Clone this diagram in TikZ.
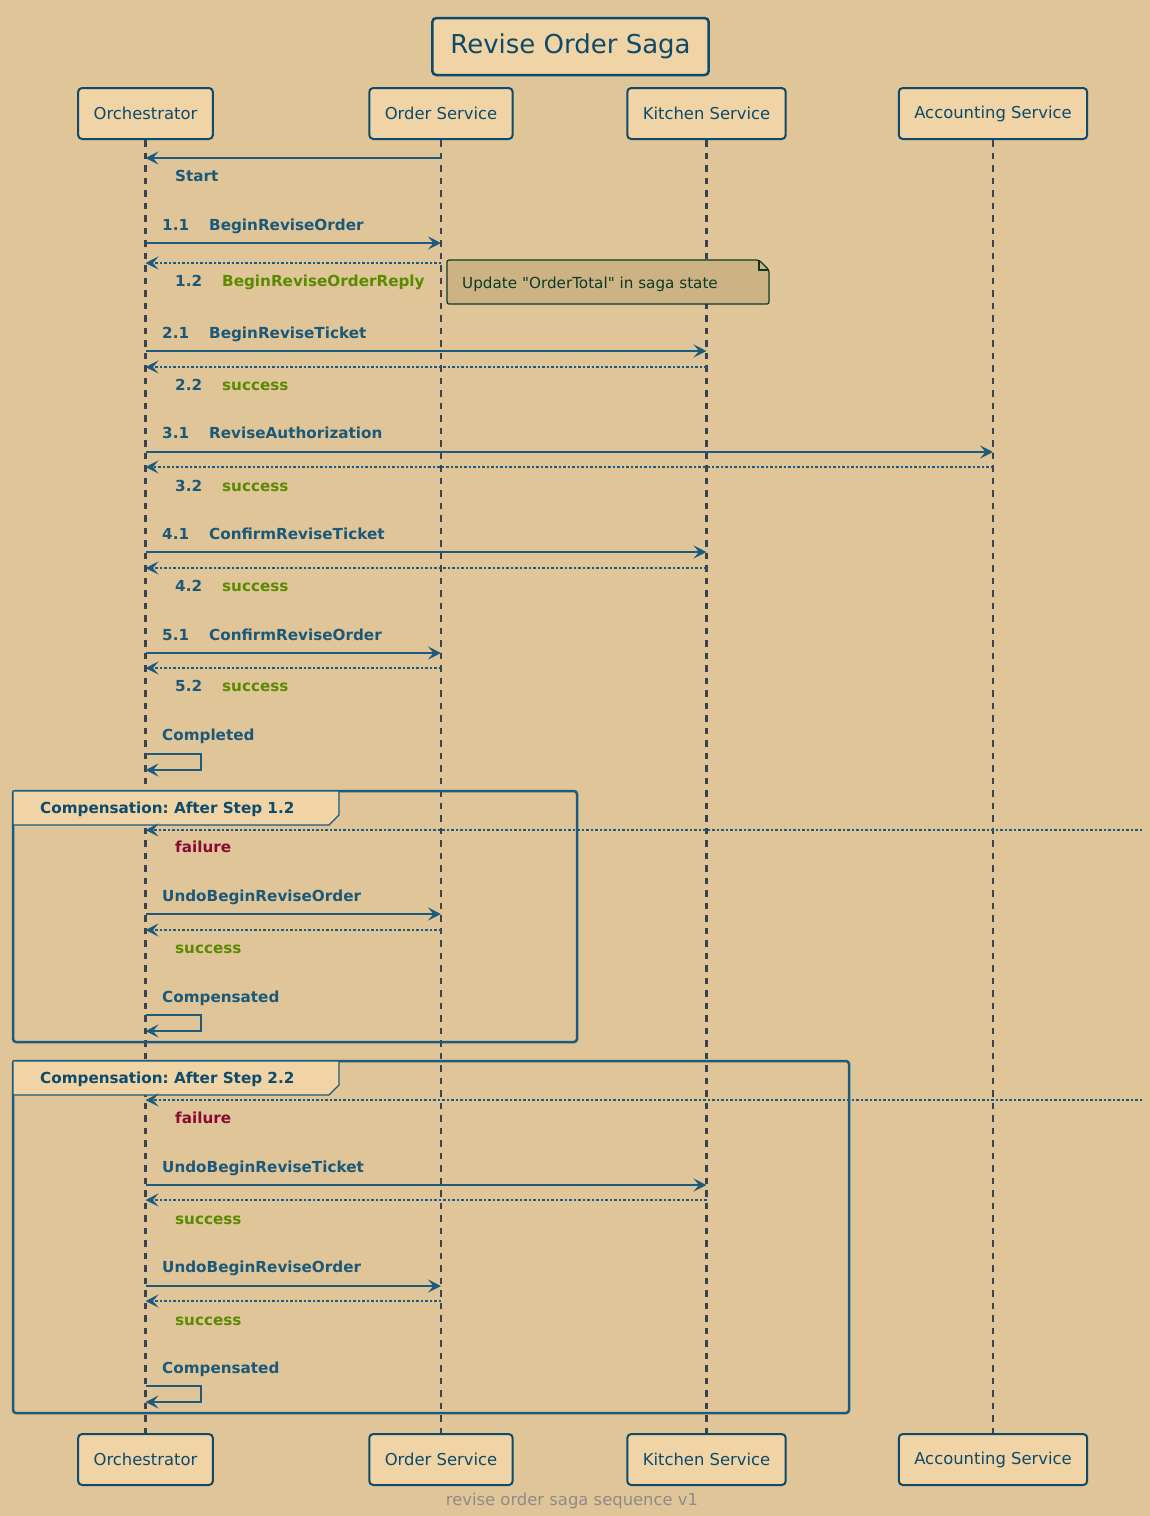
\documentclass[tikz,border=0pt]{standalone}
\usepackage{fontspec}
\setmainfont{DejaVu Sans}
\newfontfamily\notefont[Ligatures=TeXOff]{DejaVu Sans}
\usetikzlibrary{arrows.meta}
\definecolor{bgc}{HTML}{E0C599}
\definecolor{boxf}{HTML}{F1D4A6}
\definecolor{boxd}{HTML}{0E4A69}
\definecolor{arrc}{HTML}{1A5B7E}
\definecolor{lblc}{HTML}{1C5878}
\definecolor{grnc}{HTML}{5A8A00}
\definecolor{redc}{HTML}{880A35}
\definecolor{lifec}{HTML}{3B4350}
\definecolor{notef}{HTML}{CDB384}
\definecolor{noted}{HTML}{0B3A24}
\definecolor{footc}{HTML}{8C8C8C}
\tikzset{
  part/.style={draw=boxd, fill=boxf, rounded corners=4pt, line width=2pt, minimum height=51pt, inner xsep=15.5pt, text=boxd, font=\fontsize{16.4}{18}\selectfont},
  life/.style={draw=lifec, line width=2.2pt, dash pattern=on 6.5pt off 6pt},
  tip/.style={-{Stealth[length=13pt,width=13pt,inset=5.5pt]}},
  msg/.style={draw=arrc, line width=2.2pt, tip},
  ret/.style={draw=arrc, line width=2.2pt, dash pattern=on 2.2pt off 2.3pt, -{Stealth[length=13pt,width=13pt,inset=5.5pt,sep=0pt]}},
  lbl/.style={anchor=base west, inner sep=0pt, text=lblc, font=\fontsize{15.2}{17}\selectfont\bfseries\frenchspacing},
  glbl/.style={lbl, text=grnc},
  rlbl/.style={lbl, text=redc},
  grp/.style={draw=arrc, line width=2.5pt, rounded corners=3pt},
  tab/.style={draw=arrc, fill=boxf, line width=1.2pt},
}
\begin{document}
\begin{tikzpicture}[x=1pt,y=-1pt]
\fill[bgc] (0,0) rectangle (1150,1516);
\useasboundingbox (0,0) rectangle (1150,1516);

% title
\node[part, line width=2.5pt, minimum height=57pt, inner xsep=18pt, font=\fontsize{26}{30}\selectfont] (title) at (570.5,46.5) {Revise Order Saga};

% participants
\node[part] (oT) at (145.5,113.5) {Orchestrator};
\node[part] (sT) at (441,113.5) {Order Service};
\node[part] (kT) at (706.5,113.5) {Kitchen Service};
\node[part] (aT) at (993,113.5) {Accounting Service};
\node[part] (oB) at (145.5,1459.5) {Orchestrator};
\node[part] (sB) at (441,1459.5) {Order Service};
\node[part] (kB) at (706.5,1459.5) {Kitchen Service};
\node[part] (aB) at (993,1459.5) {Accounting Service};

\draw[life] (oT.south) -- (oB.north);
\draw[life] (sT.south) -- (sB.north);
\draw[life] (kT.south) -- (kB.north);
\draw[life] (aT.south) -- (aB.north);

% Start
\draw[msg] (sT |- 0,158) -- (oT |- 0,158);
\node[lbl] (lstart) at (175,181.5) {Start};

% 1
\node[lbl] (n11) at (162,230.5) {1.1};
\node[lbl] (l11) at (209,230.5) {BeginReviseOrder};
\draw[msg] (oT |- 0,243) -- (sT |- 0,243);
\draw[ret] (sT |- 0,263) -- (oT |- 0,263);
\node[lbl] (n12) at (175,286.5) {1.2};
\node[glbl] (l12) at (222,286.5) {BeginReviseOrderReply};

% note
\draw[draw=noted, fill=notef, line width=1.2pt, rounded corners=2pt] (447,260) -- (759,260) -- (769,270) -- (769,304) -- (447,304) -- cycle;
\draw[draw=noted, line width=1.2pt] (759,260) -- (759,270) -- (769,270);
\node[anchor=base west, inner sep=0pt, text=noted, font=\notefont\fontsize{15.2}{17}\selectfont] (note) at (462,288.5) {Update "OrderTotal" in saga state};

% 2
\node[lbl] (n21) at (162,338.5) {2.1};
\node[lbl] (l21) at (209,338.5) {BeginReviseTicket};
\draw[msg] (oT |- 0,351) -- (kT |- 0,351);
\draw[ret] (kT |- 0,367) -- (oT |- 0,367);
\node[lbl] (n22) at (175,390.5) {2.2};
\node[glbl] (l22) at (222,390.5) {success};

% 3
\node[lbl] (n31) at (162,438.5) {3.1};
\node[lbl] (l31) at (209,438.5) {ReviseAuthorization};
\draw[msg] (oT |- 0,452) -- (aT |- 0,452);
\draw[ret] (aT |- 0,467) -- (oT |- 0,467);
\node[lbl] (n32) at (175,491.5) {3.2};
\node[glbl] (l32) at (222,491.5) {success};

% 4
\node[lbl] (n41) at (162,539.5) {4.1};
\node[lbl] (l41) at (209,539.5) {ConfirmReviseTicket};
\draw[msg] (oT |- 0,552) -- (kT |- 0,552);
\draw[ret] (kT |- 0,568) -- (oT |- 0,568);
\node[lbl] (n42) at (175,591.5) {4.2};
\node[glbl] (l42) at (222,591.5) {success};

% 5
\node[lbl] (n51) at (162,640.5) {5.1};
\node[lbl] (l51) at (209,640.5) {ConfirmReviseOrder};
\draw[msg] (oT |- 0,653) -- (sT |- 0,653);
\draw[ret] (sT |- 0,668) -- (oT |- 0,668);
\node[lbl] (n52) at (175,691.5) {5.2};
\node[glbl] (l52) at (222,691.5) {success};

% Completed
\node[lbl] (lcomp) at (162,740.5) {Completed};
\draw[msg] (oT |- 0,754) -- (201,754) -- (201,770) -- (oT |- 0,770);

% group 1
\draw[grp] (13,791) rectangle (577,1042);
\draw[tab] (13,791) -- (339,791) -- (339,815) -- (329,825) -- (13,825) -- cycle;
\node[lbl, text=boxd] (g1) at (40,813.5) {Compensation: After Step 1.2};
\coordinate (fx1) at (1142,830);
\draw[ret] (fx1) -- (oT |- fx1);
\node[rlbl] (lf1) at (175,852.5) {failure};
\node[lbl] (lu1) at (162,901.5) {UndoBeginReviseOrder};
\draw[msg] (oT |- 0,914) -- (sT |- 0,914);
\draw[ret] (sT |- 0,930) -- (oT |- 0,930);
\node[glbl] (ls1) at (175,953.5) {success};
\node[lbl] (lc1) at (162,1002.5) {Compensated};
\draw[msg] (oT |- 0,1015) -- (201,1015) -- (201,1031) -- (oT |- 0,1031);

% group 2
\draw[grp] (13,1061) rectangle (849,1413);
\draw[tab] (13,1061) -- (339,1061) -- (339,1085) -- (329,1095) -- (13,1095) -- cycle;
\node[lbl, text=boxd] (g2) at (40,1083.5) {Compensation: After Step 2.2};
\coordinate (fx2) at (1142,1100);
\draw[ret] (fx2) -- (oT |- fx2);
\node[rlbl] (lf2) at (175,1123.5) {failure};
\node[lbl] (lu2) at (162,1172.5) {UndoBeginReviseTicket};
\draw[msg] (oT |- 0,1185) -- (kT |- 0,1185);
\draw[ret] (kT |- 0,1200) -- (oT |- 0,1200);
\node[glbl] (ls2) at (175,1224.5) {success};
\node[lbl] (lu3) at (162,1272.5) {UndoBeginReviseOrder};
\draw[msg] (oT |- 0,1286) -- (sT |- 0,1286);
\draw[ret] (sT |- 0,1301) -- (oT |- 0,1301);
\node[glbl] (ls3) at (175,1325.5) {success};
\node[lbl] (lc2) at (162,1373.5) {Compensated};
\draw[msg] (oT |- 0,1386) -- (201,1386) -- (201,1402) -- (oT |- 0,1402);

% footer
\node[inner sep=0pt, text=footc, font=\fontsize{16.4}{18}\selectfont] (foot) at (572,1501) {revise order saga sequence v1};
\end{tikzpicture}
\end{document}
